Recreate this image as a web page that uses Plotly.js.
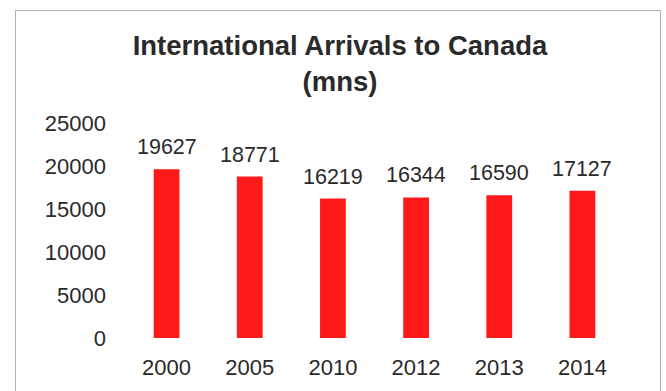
<!DOCTYPE html>
<html>
<head>
<meta charset="utf-8">
<script src="https://cdn.plot.ly/plotly-3.0.1.min.js"></script>
<style>
html,body{margin:0;padding:0;background:#fff;}
#frame{position:absolute;left:15px;top:10px;width:646px;height:400px;border:1px solid #b0b0b0;box-sizing:border-box;}
#chart{position:absolute;left:0;top:0;width:666px;height:391px;}
</style>
</head>
<body>
<div id="frame"></div>
<div id="chart"></div>
<script>
const years = ['2000', '2005', '2010', '2012', '2013', '2014'];
const arrivals = [19627, 18771, 16219, 16344, 16590, 17127];
const yTicks = [0, 5000, 10000, 15000, 20000, 25000];

const font = 'Liberation Sans, Arial, sans-serif';
const textColor = '#2a2a2a';

const trace = {
  type: 'bar',
  x: years,
  y: arrivals,
  marker: {color: '#ff1a1a'},
  width: 0.31,
  hoverinfo: 'none'
};

const annotations = years.map((yr, i) => ({
  x: i, y: arrivals[i], xref: 'x', yref: 'y',
  text: String(arrivals[i]), showarrow: false,
  yanchor: 'middle', yshift: 22,
  font: {family: font, size: 21.5, color: textColor}
}));

const layout = {
  width: 666, height: 391,
  paper_bgcolor: 'rgba(0,0,0,0)',
  plot_bgcolor: 'rgba(0,0,0,0)',
  margin: {l: 125, r: 42, t: 123, b: 53},
  showlegend: false,
  title: {
    text: '<b>International Arrivals to Canada<br>(mns)</b>',
    font: {family: font, size: 27.5, color: textColor},
    x: 340/666, xref: 'container', xanchor: 'center',
    y: 1 - 55/391, yref: 'container', yanchor: 'middle'
  },
  xaxis: {
    type: 'category',
    categoryorder: 'array', categoryarray: years,
    range: [-0.5, years.length - 0.5], autorange: false,
    showgrid: false, zeroline: false, showline: false,
    ticks: '', ticklabelstandoff: 14,
    tickfont: {family: font, size: 22, color: textColor}
  },
  yaxis: {
    range: [0, 25000], autorange: false,
    tickvals: yTicks,
    ticktext: yTicks.map(String),
    showgrid: false, zeroline: false, showline: false,
    ticks: '', ticklabelstandoff: 18,
    tickfont: {family: font, size: 22, color: textColor}
  },
  annotations: annotations
};

Plotly.newPlot('chart', [trace], layout, {displayModeBar: false, staticPlot: true});
</script>
</body>
</html>
